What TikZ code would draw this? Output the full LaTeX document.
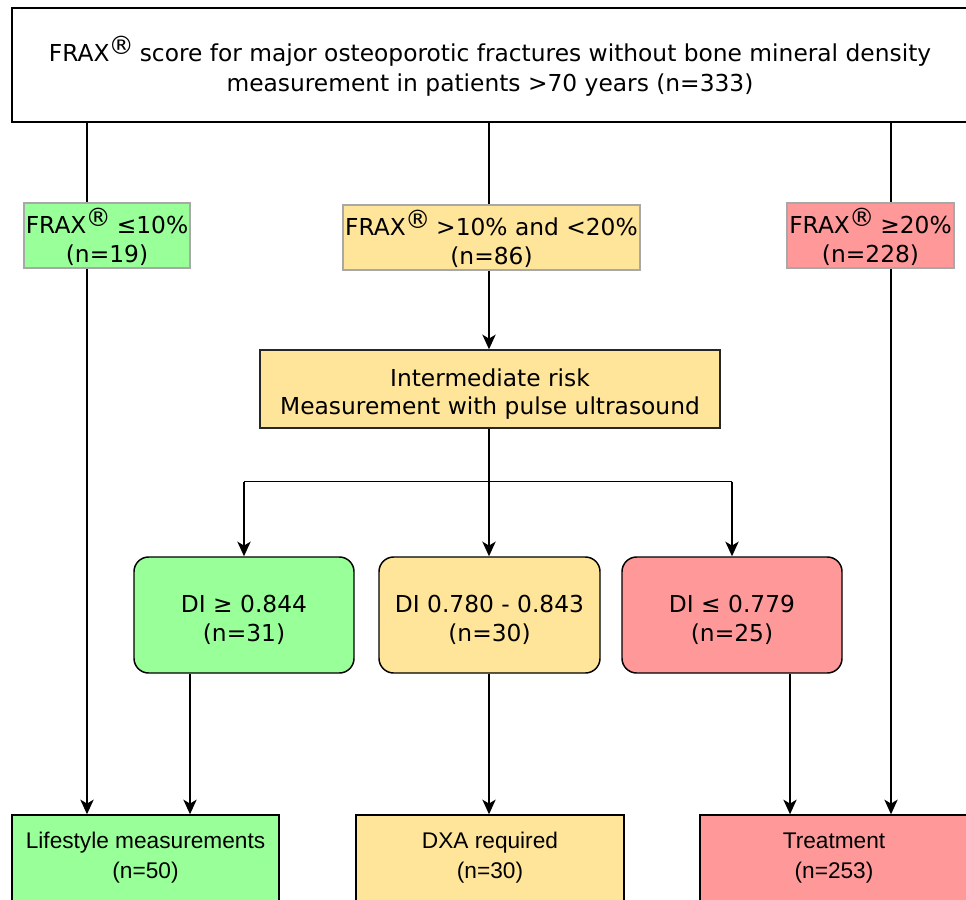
\documentclass[tikz,border=0pt]{standalone}
\usepackage{fontspec}
\setmainfont{DejaVu Sans}
\newfontfamily\afont{Liberation Sans}
\usetikzlibrary{arrows.meta}
\definecolor{cgreen}{HTML}{99FF99}
\definecolor{cyellow}{HTML}{FFE599}
\definecolor{cred}{HTML}{FF9999}
\definecolor{cgray}{HTML}{A8A8A8}
\def\pxu{0.75pt}
\newcommand{\frax}{FRAX\kern-0.6pt\raisebox{0.3em}{\fontsize{19}{19}\selectfont ®}\kern-1.2pt}
\newcommand{\tstr}{\rule{0pt}{1.18em}}
\tikzset{
  base/.style={align=center, inner sep=0pt, font=\fontsize{17.5}{22}\selectfont},
  topbox/.style={base, draw=black, line width=1.1pt, fill=white, font=\fontsize{17.5}{22.5}\selectfont},
  labbox/.style={base, draw=cgray, line width=1.5pt},
  midbox/.style={base, draw=black!85, line width=1.1pt, fill=cyellow, font=\fontsize{17.5}{20.5}\selectfont},
  dibox/.style={base, draw=black, line width=1.1pt, rounded corners=11pt},
  endbox/.style={align=center, inner sep=0pt, draw=black, line width=1.1pt, font=\afont\fontsize{17}{22.5}\selectfont},
  conn/.style={line width=1.1pt, draw=black},
  arr/.style={conn, -{Stealth[length=11pt,width=10pt,inset=3pt]}},
}
\begin{document}
\begin{tikzpicture}[x=0.75pt,y=-0.75pt]
\useasboundingbox (0,0) rectangle (966,899);
\fill[white] (0,0) rectangle (966,899);
\clip (0,0) rectangle (966,899);

\node[topbox, minimum width=956*\pxu, minimum height=114*\pxu] (top) at (490,65)
  {\tstr\frax{} score for major osteoporotic fractures without bone mineral density\\measurement in patients >70 years (n=333)};

\node[labbox, fill=cgreen, minimum width=166*\pxu, minimum height=65*\pxu] (lab1) at (107,235.5) {\tstr\frax{} ≤10\%\\(n=19)};
\node[labbox, fill=cyellow, minimum width=297*\pxu, minimum height=65*\pxu] (lab2) at (491.5,237.5) {\tstr\frax{} >10\% and <20\%\\(n=86)};
\node[labbox, fill=cred, minimum width=167*\pxu, minimum height=65*\pxu] (lab3) at (870.5,235.5) {\tstr\frax{} ≥20\%\\(n=228)};

\node[midbox, minimum width=460*\pxu, minimum height=78*\pxu] (inter) at (490,389) {\tstr Intermediate risk\\Measurement with pulse ultrasound};

\node[dibox, fill=cgreen, minimum width=220*\pxu, minimum height=116*\pxu] (di1) at (244,615) {\tstr DI ≥ 0.844\\(n=31)};
\node[dibox, fill=cyellow, minimum width=221*\pxu, minimum height=116*\pxu] (di2) at (489.5,615) {\tstr DI 0.780 - 0.843\\(n=30)};
\node[dibox, fill=cred, minimum width=220*\pxu, minimum height=116*\pxu] (di3) at (732,615) {\tstr DI ≤ 0.779\\(n=25)};

\node[endbox, fill=cgreen, minimum width=267*\pxu, minimum height=86*\pxu] (end1) at (145.5,858) {Lifestyle measurements\\(n=50)};
\node[endbox, fill=cyellow, minimum width=268*\pxu, minimum height=86*\pxu] (end2) at (490,858) {DXA required\\(n=30)};
\node[endbox, fill=cred, minimum width=268*\pxu, minimum height=86*\pxu] (end3) at (834,858) {Treatment\\(n=253)};

\coordinate (xL) at (87,0);
\coordinate (xM) at (489,0);
\coordinate (xR) at (891,0);
\coordinate (xD1) at (190,0);
\coordinate (xD3) at (790,0);

% top to labels
\draw[conn] (top.south -| xL) -- (lab1.north -| xL);
\draw[conn] (top.south -| xM) -- (lab2.north -| xM);
\draw[conn] (top.south -| xR) -- (lab3.north -| xR);

% labels onward
\draw[arr] (lab1.south -| xL) -- (end1.north -| xL);
\draw[arr] (lab2.south -| xM) -- (inter.north -| xM);
\draw[arr] (lab3.south -| xR) -- (end3.north -| xR);

% branching
\draw[conn] (inter.south -| xM) -- ++(0,53) coordinate (br);
\draw[conn] (br -| di1.north) -- (br -| di3.north);
\draw[arr] (br -| di1.north) -- (di1.north);
\draw[arr] (br) -- (di2.north -| xM);
\draw[arr] (br -| di3.north) -- (di3.north);

% DI to end
\draw[arr] (di1.south -| xD1) -- (end1.north -| xD1);
\draw[arr] (di2.south -| xM) -- (end2.north -| xM);
\draw[arr] (di3.south -| xD3) -- (end3.north -| xD3);
\end{tikzpicture}
\end{document}
